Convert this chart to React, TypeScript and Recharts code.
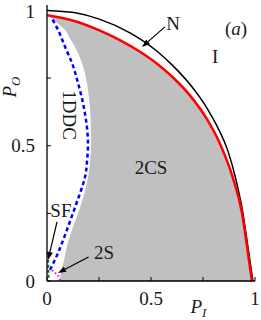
import {
  Area,
  ComposedChart,
  Line,
  ReferenceDot,
  ReferenceLine,
  XAxis,
  YAxis,
} from "recharts";

// phase diagram in the (P_I, P_O) plane

// grey 2CS region, as x-ranges at given P_O
const regionY = [0, 0.02, 0.07, 0.14, 0.2, 0.262, 0.325, 0.384, 0.447, 0.51, 0.569, 0.632, 0.732, 0.806, 0.865, 0.9, 0.928, 0.955, 0.976];
const regionLeft = [0.062, 0.065, 0.08, 0.1, 0.125, 0.155, 0.18, 0.198, 0.207, 0.212, 0.211, 0.207, 0.192, 0.168, 0.135, 0.108, 0.087, 0.046, 0.014];
const regionRight = [0.985, 0.981, 0.972, 0.96, 0.948, 0.934, 0.913, 0.892, 0.862, 0.83, 0.789, 0.737, 0.63, 0.524, 0.412, 0.32, 0.245, 0.155, 0.035];

// N line (black)
const blackX = [0, 0.13, 0.255, 0.399, 0.529, 0.606, 0.688, 0.769, 0.817, 0.87, 0.909, 0.942, 0.966, 0.99];
const blackY = [1.0, 0.992, 0.967, 0.917, 0.849, 0.795, 0.726, 0.639, 0.573, 0.48, 0.373, 0.251, 0.126, 0];

// red boundary
const redX = [0, 0.135, 0.255, 0.35, 0.447, 0.529, 0.606, 0.688, 0.769, 0.83, 0.894, 0.9375, 0.962, 0.985];
const redY = [0.982, 0.96, 0.925, 0.89, 0.847, 0.803, 0.752, 0.685, 0.598, 0.51, 0.38, 0.251, 0.126, 0];

// 1DDC boundary (blue dashed)
const blueX = [0.014, 0.038, 0.072, 0.101, 0.13, 0.159, 0.183, 0.193, 0.197, 0.192, 0.185, 0.173, 0.149, 0.12, 0.087, 0.053, 0.02];
const blueY = [0.041, 0.078, 0.14, 0.2, 0.262, 0.325, 0.384, 0.447, 0.5, 0.569, 0.607, 0.658, 0.732, 0.806, 0.865, 0.928, 0.975];

// SF (green dashed)
const greenX = [0.008, 0.006, 0.005];
const greenY = [0.012, 0.045, 0.078];

// 2S (magenta dotted)
const pinkX = [0.024, 0.038, 0.053, 0.062, 0.062, 0.99];
const pinkY = [0.04, 0.03, 0.022, 0.004, 0, 0];

const ticks = [0, 0.25, 0.5, 0.75, 1];

const notes = [
  { x: 0.606, y: 0.952, text: "N", angle: 0 },
  { x: 0.808, y: 0.828, text: "I", angle: 0 },
  { x: 0.11, y: 0.613, text: "1DDC", angle: 90 },
  { x: 0.5, y: 0.418, text: "2CS", angle: 0 },
  { x: 0.067, y: 0.262, text: "SF", angle: 0 },
  { x: 0.274, y: 0.107, text: "2S", angle: 0 },
];

const arrows = [
  { from: { x: 0.567, y: 0.939 }, to: { x: 0.457, y: 0.865 } },
  { from: { x: 0.048, y: 0.218 }, to: { x: 0.005, y: 0.078 } },
  { from: { x: 0.2, y: 0.089 }, to: { x: 0.053, y: 0.03 } },
];

const FONT = '"Liberation Serif", "DejaVu Serif", serif';
const TXT = "#1a1a1a";

const toPts = (xs: number[], ys: number[]) => xs.map((x, i) => ({ x, y: ys[i] }));

const regionData = regionY.map((y, i) => ({ y, xr: [regionLeft[i], regionRight[i]] }));
const blackData = toPts(blackX, blackY);
const redData = toPts(redX, redY);
const blueData = toPts(blueX, blueY);
const greenData = toPts(greenX, greenY);
const pinkData = toPts(pinkX, pinkY);

const fmt = (v: number) => (v === 0 || v === 0.5 || v === 1 ? String(v) : "");

function Arrow(props: any) {
  const { x1, y1, x2, y2 } = props;
  const dx = x2 - x1;
  const dy = y2 - y1;
  const len = Math.hypot(dx, dy) || 1;
  const ux = dx / len;
  const uy = dy / len;
  const hl = 8;
  const hw = 3;
  const bx = x2 - ux * hl;
  const by = y2 - uy * hl;
  return (
    <g>
      <line x1={x1} y1={y1} x2={bx} y2={by} stroke="#000" strokeWidth={1.2} />
      <polygon
        points={`${x2},${y2} ${bx - uy * hw},${by + ux * hw} ${bx + uy * hw},${by - ux * hw}`}
        fill="#000"
      />
    </g>
  );
}

const noteContent = (text: string, angle: number) => (props: any) => {
  const vb = props.viewBox || {};
  const cx = vb.x + (vb.width || 0) / 2;
  const cy = vb.y + (vb.height || 0) / 2;
  return (
    <text
      x={cx}
      y={cy}
      textAnchor="middle"
      dominantBaseline="central"
      fontFamily={FONT}
      fontSize={19}
      fill={TXT}
      transform={angle ? `rotate(${angle} ${cx} ${cy})` : undefined}
    >
      {text}
    </text>
  );
};

const panelContent = (props: any) => {
  const vb = props.viewBox || {};
  const cx = vb.x + (vb.width || 0) / 2;
  const cy = vb.y + (vb.height || 0) / 2;
  return (
    <text x={cx} y={cy} textAnchor="middle" dominantBaseline="central" fontFamily={FONT} fontSize={19} fill={TXT}>
      (<tspan fontStyle="italic">a</tspan>)
    </text>
  );
};

const xLabel = (props: any) => {
  const vb = props.viewBox;
  const x = vb.x + vb.width * 0.728;
  const y = vb.y + 32;
  return (
    <text x={x} y={y} textAnchor="middle" fontFamily={FONT} fontSize={19} fill={TXT}>
      <tspan fontStyle="italic">P</tspan>
      <tspan fontStyle="italic" fontSize={13} dy={4}>I</tspan>
    </text>
  );
};

const yLabel = (props: any) => {
  const vb = props.viewBox;
  const x = vb.x + 16;
  const y = vb.y + 82;
  return (
    <text
      x={x}
      y={y}
      textAnchor="middle"
      fontFamily={FONT}
      fontSize={19}
      fill={TXT}
      transform={`rotate(-90 ${x} ${y})`}
    >
      <tspan fontStyle="italic">P</tspan>
      <tspan fontStyle="italic" fontSize={13} dy={4}>O</tspan>
    </text>
  );
};

const tickStyle = { fill: TXT, fontSize: 19, fontFamily: FONT };

export default function App() {
  return (
    <div style={{ position: "absolute", left: 0, top: 0, background: "#fff" }}>
      <ComposedChart
        width={261}
        height={320}
        layout="vertical"
        data={regionData}
        margin={{ top: 5, right: 6, bottom: 0, left: 0 }}
      >
        <XAxis
          type="number"
          domain={[0, 1]}
          allowDataOverflow
          ticks={ticks}
          tickFormatter={fmt}
          height={39}
          tickSize={-4}
          tickMargin={15}
          tick={tickStyle}
          axisLine={{ stroke: "#000", strokeWidth: 1.3 }}
          tickLine={{ stroke: "#000" }}
          label={{ content: xLabel }}
        />
        <XAxis
          xAxisId="top"
          orientation="top"
          type="number"
          domain={[0, 1]}
          allowDataOverflow
          ticks={ticks}
          height={0}
          tickSize={-4}
          tick={false}
          axisLine={{ stroke: "#000", strokeWidth: 1.3 }}
          tickLine={{ stroke: "#000" }}
        />
        <YAxis
          type="number"
          dataKey="y"
          domain={[0, 1.02]}
          allowDataOverflow
          reversed
          ticks={ticks}
          tickFormatter={fmt}
          width={47}
          tickSize={-4}
          tickMargin={16}
          tick={tickStyle}
          axisLine={{ stroke: "#000", strokeWidth: 1.3 }}
          tickLine={{ stroke: "#000" }}
          label={{ content: yLabel }}
        />
        <YAxis
          yAxisId="right"
          orientation="right"
          type="number"
          dataKey="y"
          domain={[0, 1.02]}
          allowDataOverflow
          reversed
          ticks={ticks}
          width={0}
          tickSize={-4}
          tick={false}
          axisLine={{ stroke: "#000", strokeWidth: 1.6 }}
          tickLine={{ stroke: "#000" }}
        />

        <Area
          dataKey="xr"
          type="monotone"
          stroke="none"
          fill="#c0c0c0"
          fillOpacity={1}
          dot={false}
          activeDot={false}
          isAnimationActive={false}
        />
        <Line data={blackData} dataKey="x" type="monotoneX" stroke="#000" strokeWidth={1.5} dot={false} activeDot={false} isAnimationActive={false} />
        <Line data={redData} dataKey="x" type="monotoneX" stroke="#ff0000" strokeWidth={2.5} dot={false} activeDot={false} isAnimationActive={false} />
        <Line data={blueData} dataKey="x" type="monotoneY" stroke="#0000ff" strokeWidth={2.5} strokeDasharray="4 3" dot={false} activeDot={false} isAnimationActive={false} />
        <Line data={greenData} dataKey="x" type="linear" stroke="#008000" strokeWidth={2} strokeDasharray="3 2" dot={false} activeDot={false} isAnimationActive={false} />
        <Line data={pinkData} dataKey="x" type="linear" stroke="#ff00ff" strokeWidth={2} strokeDasharray="1.5 2.5" dot={false} activeDot={false} isAnimationActive={false} />

        {arrows.map((a, i) => (
          <ReferenceLine key={`a${i}`} segment={[a.from, a.to]} shape={Arrow} ifOverflow="visible" />
        ))}
        {notes.map((n) => (
          <ReferenceDot key={n.text} x={n.x} y={n.y} r={0} fill="none" stroke="none" ifOverflow="visible" label={{ content: noteContent(n.text, n.angle) }} />
        ))}
        <ReferenceDot x={0.909} y={0.935} r={0} fill="none" stroke="none" ifOverflow="visible" label={{ content: panelContent }} />
      </ComposedChart>
    </div>
  );
}
